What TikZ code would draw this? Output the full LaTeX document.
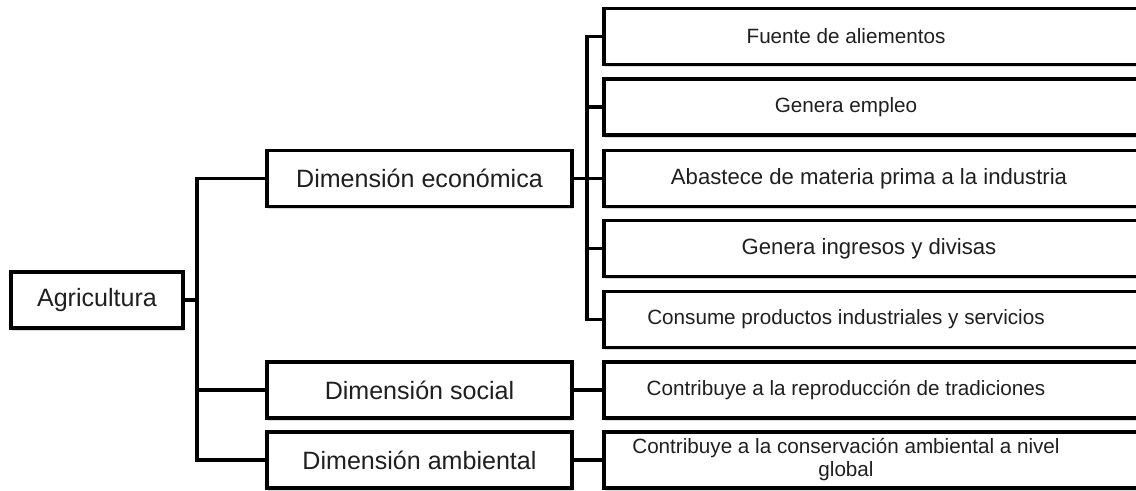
\documentclass[tikz,border=0pt]{standalone}
\usepackage{fontspec}
\setmainfont{Liberation Sans}
\usetikzlibrary{shadows}
\begin{document}
\begin{tikzpicture}[x=0.75pt,y=-0.75pt,
  box/.style={draw=black, line width=2.5pt, fill=white, inner sep=0pt, align=center, text=black!88,
    drop shadow={opacity=0.3, shadow xshift=0.6pt, shadow yshift=-2pt}},
  bigbox/.style={box, font=\fontsize{18.8pt}{22pt}\selectfont, minimum height=42pt},
  smallbox/.style={box, minimum width=409.5pt, minimum height=42pt},
  txt/.style={font=\fontsize{15.5pt}{17.3pt}\selectfont, text=black!88, align=center, xshift=-23.25pt},
  txtb/.style={font=\fontsize{16.6pt}{19pt}\selectfont, text=black!88, align=center, xshift=-6pt},
  conn/.style={draw=black, line width=2.5pt}]
\useasboundingbox (0,0) rectangle (1136,491);
\begin{scope}
\clip (0,0) rectangle (1136,491);
\node[bigbox, minimum width=129pt] (agr) at (97,300) {Agricultura};
\node[bigbox, minimum width=228.75pt] (econ) at (419.5,178.5) {Dimensión económica};
\node[bigbox, minimum width=228.75pt] (soc) at (419.5,390) {Dimensión social};
\node[bigbox, minimum width=228.75pt] (amb) at (419.5,460) {Dimensión ambiental};
\node[smallbox, label={[txt]center:Fuente de aliementos}] (b1) at (877,36.5) {};
\node[smallbox, label={[txt]center:Genera empleo}] (b2) at (877,107) {};
\node[smallbox, label={[txtb]center:Abastece de materia prima a la industria}] (b3) at (877,178.5) {};
\node[smallbox, label={[txtb]center:Genera ingresos y divisas}] (b4) at (877,248.5) {};
\node[smallbox, label={[txt]center:Consume productos industriales y servicios}] (b5) at (877,319.5) {};
\node[smallbox, label={[txt]center:Contribuye a la reproducción de tradiciones}] (b6) at (877,390) {};
\node[smallbox, label={[txt]center:Contribuye a la conservación ambiental a nivel\\global}] (b7) at (877,460) {};
\coordinate (t) at (197,300);
\coordinate (e) at (587,178.5);
\draw[conn] (agr.east) -- (t);
\draw[conn] (econ.west) -| (t);
\draw[conn] (soc.west) -| (t);
\draw[conn] (amb.west) -| (t);
\draw[conn] (econ.east) -- (e);
\draw[conn] (b1.west) -| (e);
\draw[conn] (b2.west) -| (e);
\draw[conn] (b3.west) -- (e);
\draw[conn] (b4.west) -| (e);
\draw[conn] (b5.west) -| (e);
\draw[conn] (soc.east) -- (b6.west);
\draw[conn] (amb.east) -- (b7.west);
\end{scope}
\end{tikzpicture}
\end{document}
